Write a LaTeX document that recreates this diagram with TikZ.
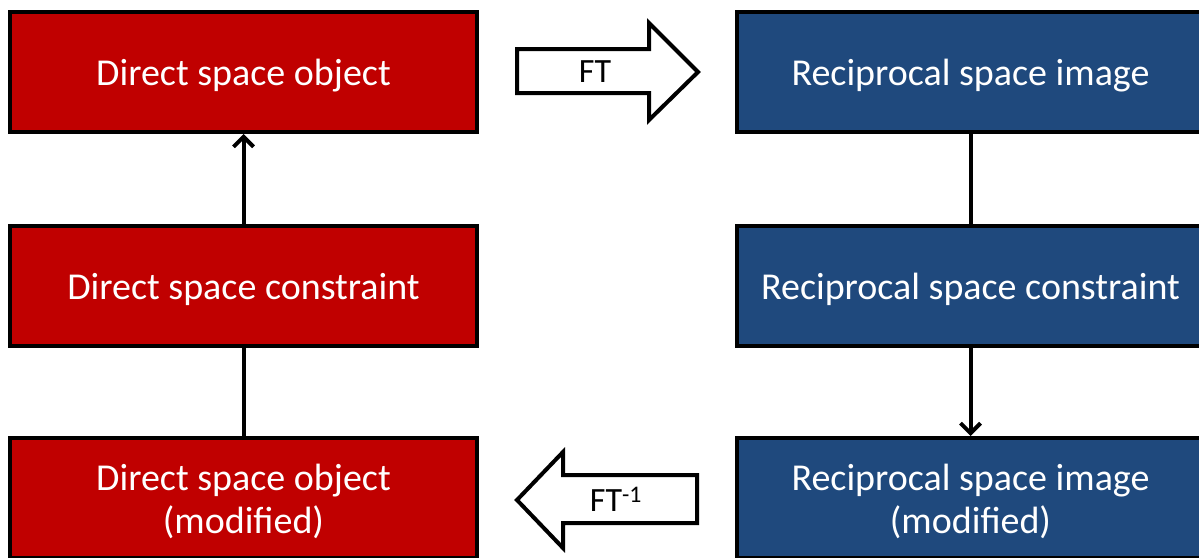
\documentclass[tikz,border=0pt]{standalone}
\usepackage{fontspec}
\setmainfont{Carlito}
\usetikzlibrary{arrows.meta}
\definecolor{dred}{HTML}{C00000}
\definecolor{dblue}{HTML}{1F497D}
\newcommand{\bt}[1]{\raisebox{-5pt}[\height][\depth]{\begin{tabular}{@{}c@{}}#1\end{tabular}}}
\tikzset{
  box/.style={draw=black, line width=4pt, minimum width=467pt, minimum height=120pt, text=white, font=\fontsize{38}{43}\selectfont, inner sep=0pt},
  redbox/.style={box, fill=dred},
  bluebox/.style={box, fill=dblue},
  conn/.style={line width=4pt},
  connarr/.style={conn, -{Straight Barb[length=10pt,width=20pt,line width=4pt]}},
  blockarrow/.style={draw=black, line width=4pt, fill=white, line join=miter},
  ftlabel/.style={font=\fontsize{34}{40}\selectfont, inner sep=0pt}
}
\begin{document}
\begin{tikzpicture}[x=1pt,y=-1pt]
\useasboundingbox (0,0) rectangle (1199,557);
\node[redbox] (d1) at (243.5,72) {\bt{Direct space object}};
\node[redbox] (d2) at (243.5,286) {\bt{Direct space constraint}};
\node[redbox] (d3) at (243.5,498) {\bt{Direct space object\\(modified)}};
\node[bluebox] (r1) at (970.5,72) {\bt{Reciprocal space image}};
\node[bluebox] (r2) at (970.5,286) {\bt{Reciprocal space constraint}};
\node[bluebox] (r3) at (970.5,498) {\bt{Reciprocal space image\\(modified)}};
\draw[connarr] (d2.north) -- (d1.south);
\draw[conn] (d3.north) -- (d2.south);
\draw[conn] (r1.south) -- (r2.north);
\draw[connarr] (r2.south) -- (r3.north);
\draw[blockarrow] (517,49) -- (649,49) -- (649,23) -- (698,72) -- (649,120) -- (649,93) -- (517,93) -- cycle;
\node[ftlabel] (ft) at (595,72) {FT};
\draw[blockarrow] (697,475) -- (563,475) -- (563,452) -- (517,500) -- (563,548) -- (563,523) -- (697,523) -- cycle;
\node[ftlabel] (ftinv) at (616,499) {FT\textsuperscript{-1}};
\end{tikzpicture}
\end{document}
